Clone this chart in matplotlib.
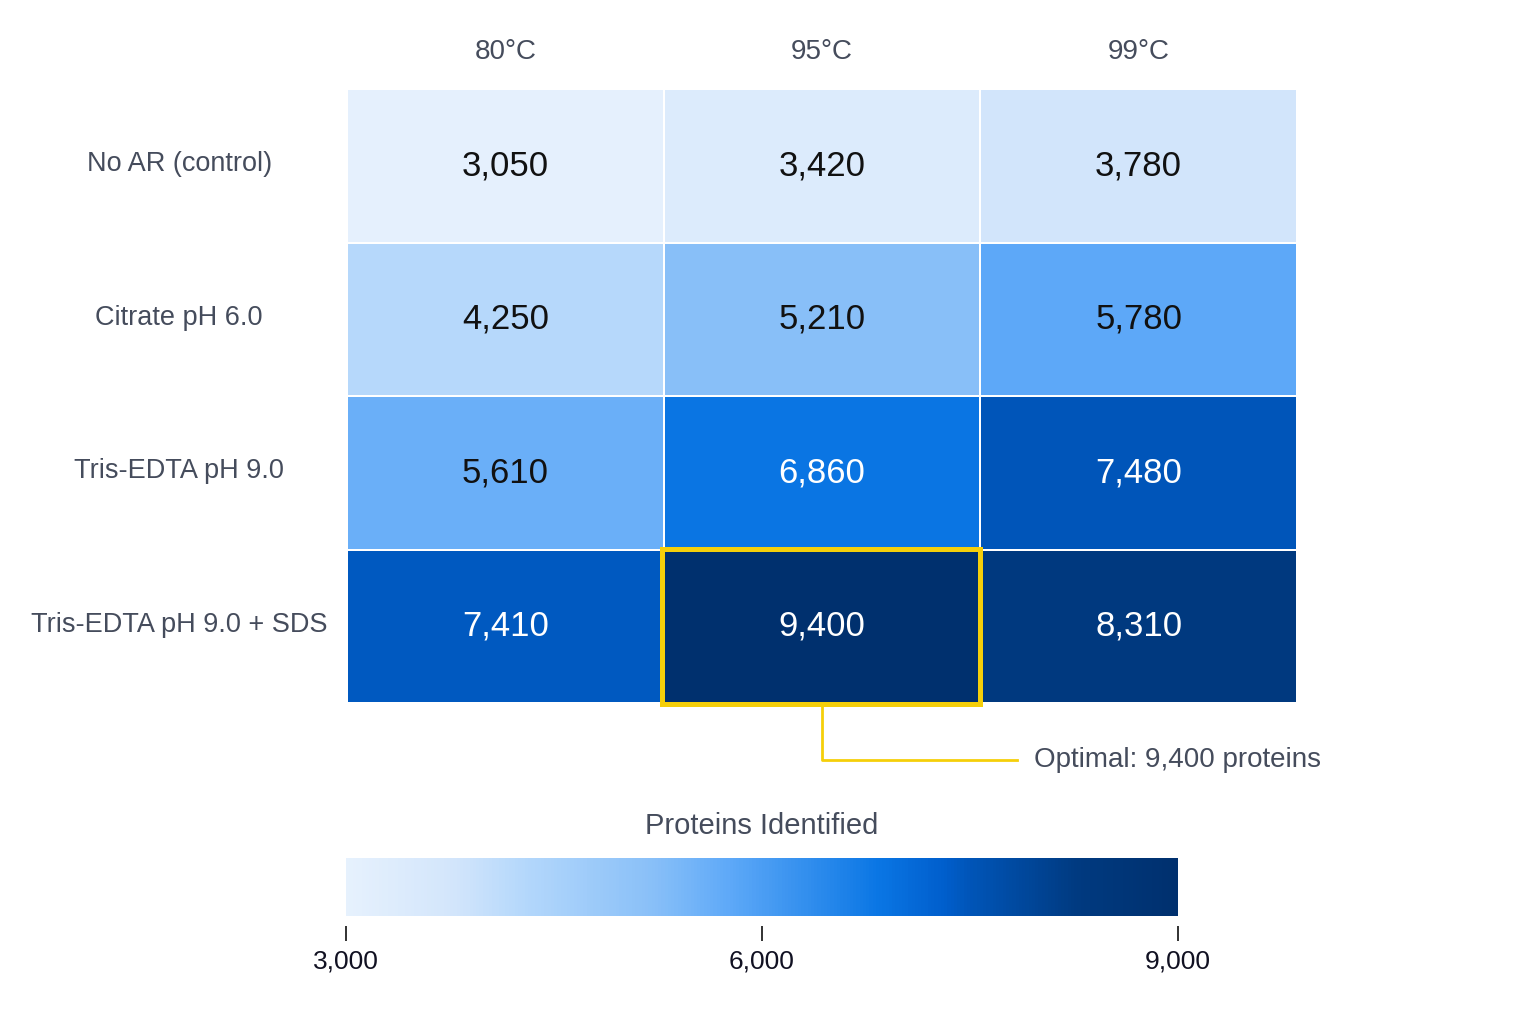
import matplotlib.pyplot as plt
import numpy as np
from matplotlib.colors import LinearSegmentedColormap, Normalize
from matplotlib.patches import Rectangle

plt.rcParams['font.family'] = ['Liberation Sans', 'DejaVu Sans']

temps = ['80°C', '95°C', '99°C']
buffers = ['No AR (control)', 'Citrate pH 6.0', 'Tris-EDTA pH 9.0', 'Tris-EDTA pH 9.0 + SDS']
proteins = np.array([
    [3050, 3420, 3780],
    [4250, 5210, 5780],
    [5610, 6860, 7480],
    [7410, 9400, 8310],
])
best_row, best_col = 3, 1
cbar_ticks = [3000, 6000, 9000]

label_col = '#454c5c'
cmap = LinearSegmentedColormap.from_list('blues', [
    (0.0, '#e6f1fd'), (0.13, '#d2e5fb'), (0.21, '#b5d8fb'), (0.37, '#88bff8'),
    (0.46, '#5ea9f8'), (0.64, '#0a76e4'), (0.72, '#005ecc'), (0.75, '#0055b8'),
    (0.88, '#003a80'), (1.0, '#00306e')])
norm = Normalize(vmin=3000, vmax=9000)

W, H = 1536, 1024
fig = plt.figure(figsize=(W / 100, H / 100), dpi=100)
fig.patch.set_facecolor('white')

# heatmap, placed in pixel coords
ax = fig.add_axes([347 / W, 1 - 703 / H, 950 / W, 614 / H])
ax.pcolormesh(proteins, cmap=cmap, norm=norm, edgecolors='white', linewidth=1.2)
ax.set_xlim(0, 3)
ax.set_ylim(4, 0)
for s in ax.spines.values():
    s.set_visible(False)
ax.set_xticks([])
ax.set_yticks([])

for i, row in enumerate(proteins):
    for j, v in enumerate(row):
        c = 'white' if v >= 6500 else '#111111'
        ax.text(j + 0.5, i + 0.5, f'{v:,}', ha='center', va='center', fontsize=25, color=c)

for j, t in enumerate(temps):
    ax.text(j + 0.5, -0.24, t, ha='center', va='center', fontsize=20, color=label_col)
for i, b in enumerate(buffers):
    ax.text(-0.53, i + 0.49, b, ha='center', va='center', fontsize=19.5, color=label_col)

# highlight the best cell
gold = '#f5cf0a'
ax.add_patch(Rectangle((best_col - 0.005, best_row - 0.005), 1.005, 1.01, fill=False,
                       edgecolor=gold, linewidth=3.6, clip_on=False, zorder=5))
ax.plot([best_col + 0.5, best_col + 0.5, 2.115], [4.01, 4.37, 4.37],
        color=gold, linewidth=2, clip_on=False, zorder=5)
ax.text(2.17, 4.37, f'Optimal: {proteins[best_row, best_col]:,} proteins',
        ha='left', va='center', fontsize=20, color=label_col)

# colorbar
cax = fig.add_axes([346 / W, 1 - 916 / H, 832 / W, 58 / H])
cb = fig.colorbar(plt.cm.ScalarMappable(norm=norm, cmap=cmap), cax=cax,
                  orientation='horizontal', ticks=cbar_ticks)
cb.outline.set_visible(False)
cax.spines['bottom'].set_position(('outward', 7))
cax.tick_params(length=11, width=1.3, color='#222222', labelsize=19, labelcolor='#111122', pad=6)
cax.set_xticklabels([f'{t:,}' for t in cbar_ticks])
cax.set_title('Proteins Identified', fontsize=21, color=label_col, pad=17)

fig.savefig('out.png', dpi=100, facecolor='white')
